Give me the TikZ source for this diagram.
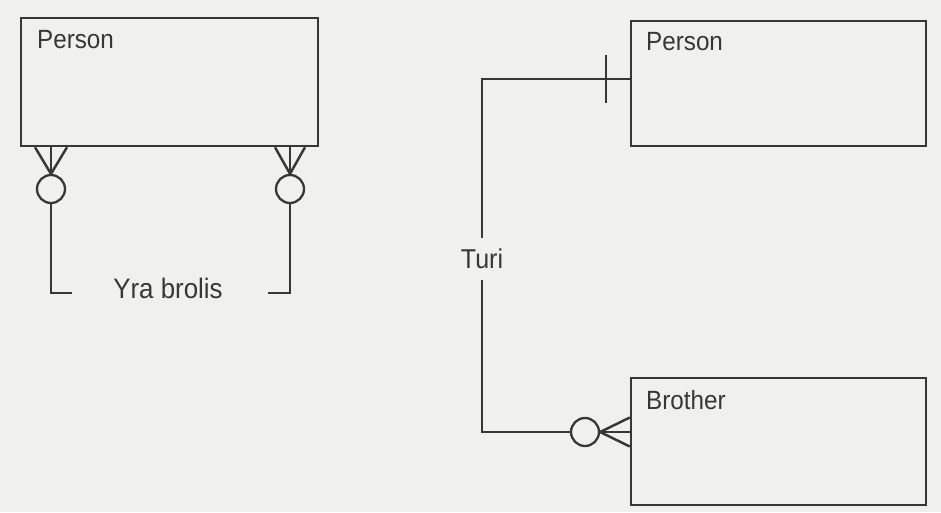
\documentclass[tikz,border=0pt]{standalone}
\usepackage{fontspec}
\setmainfont{Liberation Sans}[FakeStretch=0.92]
\usetikzlibrary{positioning,calc}
\definecolor{paper}{RGB}{240,240,238}
\definecolor{ink}{RGB}{55,55,55}

\begin{document}
\begin{tikzpicture}[x=0.02cm, y=-0.02cm,
    ebox/.style={draw=ink, line width=1.4pt, inner sep=0pt},
    elabel/.style={inner sep=0pt, anchor=north west, text=ink, font=\fontsize{15}{17}\selectfont},
    rlabel/.style={text=ink, font=\fontsize{15.5}{17}\selectfont},
    ring/.style={circle, draw=ink, line width=1.3pt, minimum size=0.56cm, inner sep=0pt},
    lnk/.style={draw=ink, line width=1.4pt}
]
\fill[paper] (0,0) rectangle (941,512);
\useasboundingbox (0,0) rectangle (941,512);
% entities
\node[ebox, minimum width=5.94cm, minimum height=2.56cm] (pL) at (169.5,82)  {};
\node[ebox, minimum width=5.90cm, minimum height=2.50cm] (pR) at (778.5,83.5) {};
\node[ebox, minimum width=5.90cm, minimum height=2.54cm] (br) at (778.5,441.5) {};
\node[elabel, below right=0.27cm and 0.34cm of pL.north west] (pLt) {Person};
\node[elabel, below right=0.24cm and 0.32cm of pR.north west] (pRt) {Person};
\node[elabel, below right=0.27cm and 0.32cm of br.north west] (brt) {Brother};
% rings
\node[ring] (oL) at (51,189)  {};
\node[ring] (oR) at (290,189) {};
\node[ring] (oB) at (585,432) {};
% relationship names
\node[rlabel, anchor=base, font=\fontsize{16}{18}\selectfont] (yb) at (168,298) {Yra brolis};
\node[rlabel, inner sep=6pt] (turi) at (482,259) {Turi};
\coordinate (eL) at (72,293);
\coordinate (eR) at (268,293);
\coordinate (aP) at (631,79);
% recursive link on the left
\draw[lnk] (oL.north) -- ($(oL |- pL.south)+(-16,0)$);
\draw[lnk] (oL.north) -- (oL |- pL.south);
\draw[lnk] (oL.north) -- ($(oL |- pL.south)+(16,0)$);
\draw[lnk] (oR.north) -- ($(oR |- pL.south)+(-15,0)$);
\draw[lnk] (oR.north) -- (oR |- pL.south);
\draw[lnk] (oR.north) -- ($(oR |- pL.south)+(15,0)$);
\draw[lnk] (oL.south) |- (eL);
\draw[lnk] (oR.south) |- (eR);
% link on the right
\draw[lnk] (aP) -| (turi.north);
\draw[lnk] ($(aP)+(-25,-24)$) -- ($(aP)+(-25,24)$);
\draw[lnk] (turi.south) |- (oB.west);
\draw[lnk] (oB.east) -- ($(br.west |- oB)+(0,-14.5)$);
\draw[lnk] (oB.east) -- (br.west |- oB);
\draw[lnk] (oB.east) -- ($(br.west |- oB)+(0,14.5)$);
\end{tikzpicture}
\end{document}
